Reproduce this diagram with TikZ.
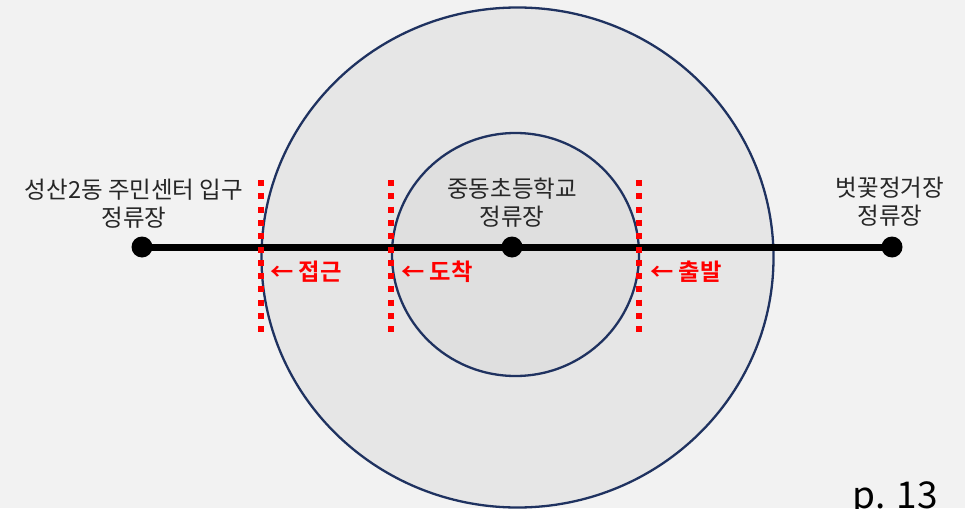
\documentclass[tikz,border=0pt]{standalone}
\usepackage{fontspec}
\setmainfont{Noto Sans CJK KR}
\newfontfamily\krbold{Noto Sans CJK KR Bold}
\definecolor{bgc}{HTML}{F2F2F2}
\definecolor{outerc}{HTML}{E6E6E6}
\definecolor{innerc}{HTML}{DFDFDF}
\definecolor{navy}{HTML}{1F3260}
\definecolor{redc}{HTML}{FF0000}
\tikzset{
  ring/.style={draw=navy, line width=2.3pt},
  stopdot/.style={circle, fill=black, inner sep=0pt, minimum size=21pt},
  redline/.style={draw=redc, line width=6pt, dash pattern=on 6pt off 7.3pt},
  stoplabel/.style={align=center, font=\fontsize{23.5}{28}\selectfont, inner sep=0pt, text=black!85},
  redlabel/.style={anchor=west, font=\krbold\fontsize{23.3}{26}\selectfont, text=redc, inner sep=0pt}
}
\begin{document}
\begin{tikzpicture}[x=1pt,y=-1pt]
\useasboundingbox (0,0) rectangle (965,508);
\fill[bgc] (0,0) rectangle (965,508);
\draw[ring, fill=outerc] (517.5,257.5) ellipse [x radius=256, y radius=250];
\draw[ring, fill=innerc] (515.5,254.5) ellipse [x radius=123.5, y radius=121.5];
\node[stopdot] (s1) at (142,247) {};
\node[stopdot] (s2) at (512,247) {};
\node[stopdot] (s3) at (892,247) {};
\draw[line width=7pt] (s1.center) -- (s2.center) -- (s3.center);
\coordinate (a1) at (261,180); \coordinate (a2) at (261,333);
\coordinate (b1) at (391,180); \coordinate (b2) at (391,333);
\coordinate (c1) at (639,180); \coordinate (c2) at (639,333);
\draw[redline] (a1) -- (a2);
\draw[redline] (b1) -- (b2);
\draw[redline] (c1) -- (c2);
\node[stoplabel] (l1) at (134,204) {성산2동 주민센터 입구\\정류장};
\node[stoplabel] (l2) at (512,203) {중동초등학교\\정류장};
\node[stoplabel] (l3) at (890,202) {벗꽃정거장\\정류장};
\node[redlabel] (r1) at (270,272) {← 접근};
\node[redlabel] (r2) at (401,272) {← 도착};
\node[redlabel] (r3) at (650,272) {← 출발};
\node[anchor=base east, inner sep=0pt, font=\fontsize{37}{40}\selectfont] (pg) at (938,508) {p. 13};
\end{tikzpicture}
\end{document}
